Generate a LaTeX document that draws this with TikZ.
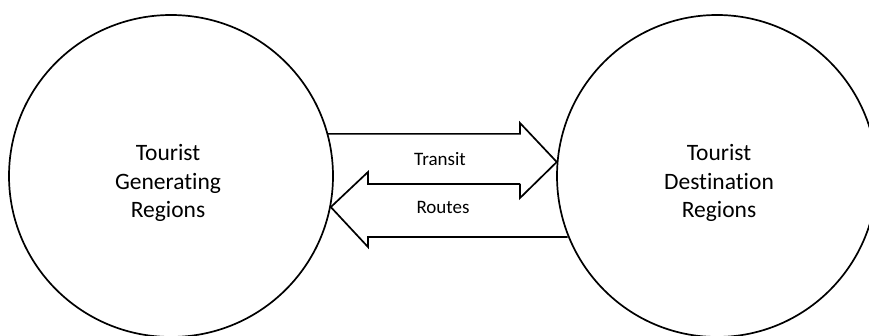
\documentclass[tikz,border=0pt]{standalone}
\usepackage{fontspec}
\setmainfont[Ligatures=NoCommon]{Carlito}
\usetikzlibrary{shapes.geometric}
\begin{document}
\begin{tikzpicture}[x=1pt,y=-1pt, line width=1.7pt, line join=miter,
  region/.style={draw, ellipse, inner sep=0pt},
  lbl/.style={align=center, font=\fontsize{23.5}{28.5}\selectfont, text=black},
  small/.style={font=\fontsize{19}{22}\selectfont, text=black},
  blockarrow/.style={draw, line width=1.7pt}]
\useasboundingbox (0,0) rectangle (869,336);
\node[region, minimum width=324pt, minimum height=322pt] (L) at (171,176) {};
\node[region, minimum width=320pt, minimum height=322pt] (R) at (717,176) {};
\node[lbl] (gen) at (168,183) {Tourist\\Generating\\Regions};
\node[lbl] (dst) at (719,183) {Tourist\\Destination\\Regions};
\coordinate (hr) at (520,0);
\coordinate (hl) at (368,0);
% right-pointing block arrow
\draw[blockarrow] (L.15.5) -- (L.15.5 -| hr) -- (520,123) -- (R.175) -- (520,198) -- (520,184);
% left-pointing block arrow
\draw[blockarrow] (520,184) -- (368,184) -- (368,172) -- (L.-11.5) -- (368,247) -- (368,237) -- (R.202.4 |- 0,237);
\node[small] (tr) at (440,159) {Transit};
\node[small] (ro) at (443,207) {Routes};
\end{tikzpicture}
\end{document}
